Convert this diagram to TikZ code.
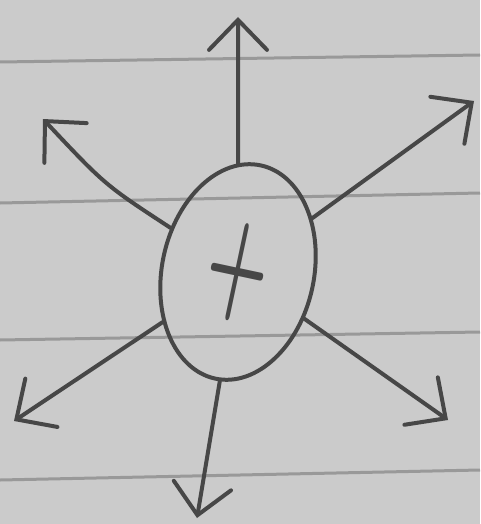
\documentclass[tikz,border=0pt]{standalone}
\usepackage{graphicx}
\usetikzlibrary{shapes.geometric,arrows.meta}
\definecolor{paper}{HTML}{CBCBCB}
\definecolor{rule}{HTML}{999999}
\definecolor{ink}{HTML}{474747}
\tikzset{
  ruleline/.style={draw=rule,line width=3pt},
  ink/.style={draw=ink,line width=4pt,line cap=round,line join=round},
  arr/.style={ink,-{Straight Barb[length=30pt,width=58pt,line cap=round]}},
  cell/.style={ink,ellipse,minimum width=152pt,minimum height=218pt,inner sep=0pt,text=ink}
}
\begin{document}
\begin{tikzpicture}[x=1pt,y=-1pt]
  \fill[paper] (0,0) rectangle (480,524);
  \useasboundingbox (0,0) rectangle (480,524);
  % ruled paper lines
  \draw[ruleline] (0,62) -- (480,55);
  \draw[ruleline] (0,203) -- (480,193);
  \draw[ruleline] (0,340) -- (480,332);
  \draw[ruleline] (0,480) -- (480,470);
  % central cell
  \node[cell,rotate=-12] (e) at (238,272) {\raisebox{4pt}{\resizebox{62pt}{82pt}{\bfseries +}}};
  % arrow tips
  \coordinate (tN)  at (238,17);
  \coordinate (tNE) at (474,101);
  \coordinate (tNW) at (43,119);
  \coordinate (tSW) at (14,421);
  \coordinate (tSE) at (448,420);
  \coordinate (tS)  at (197,518);
  % arrows
  \draw[arr] (e) -- (tN);
  \draw[arr] (e) -- (tNE);
  \draw[arr] (e) .. controls (105,185) .. (tNW);
  \draw[arr] (e) -- (tSW);
  \draw[arr] (e) -- (tSE);
  \draw[arr] (e) -- (tS);
\end{tikzpicture}
\end{document}
